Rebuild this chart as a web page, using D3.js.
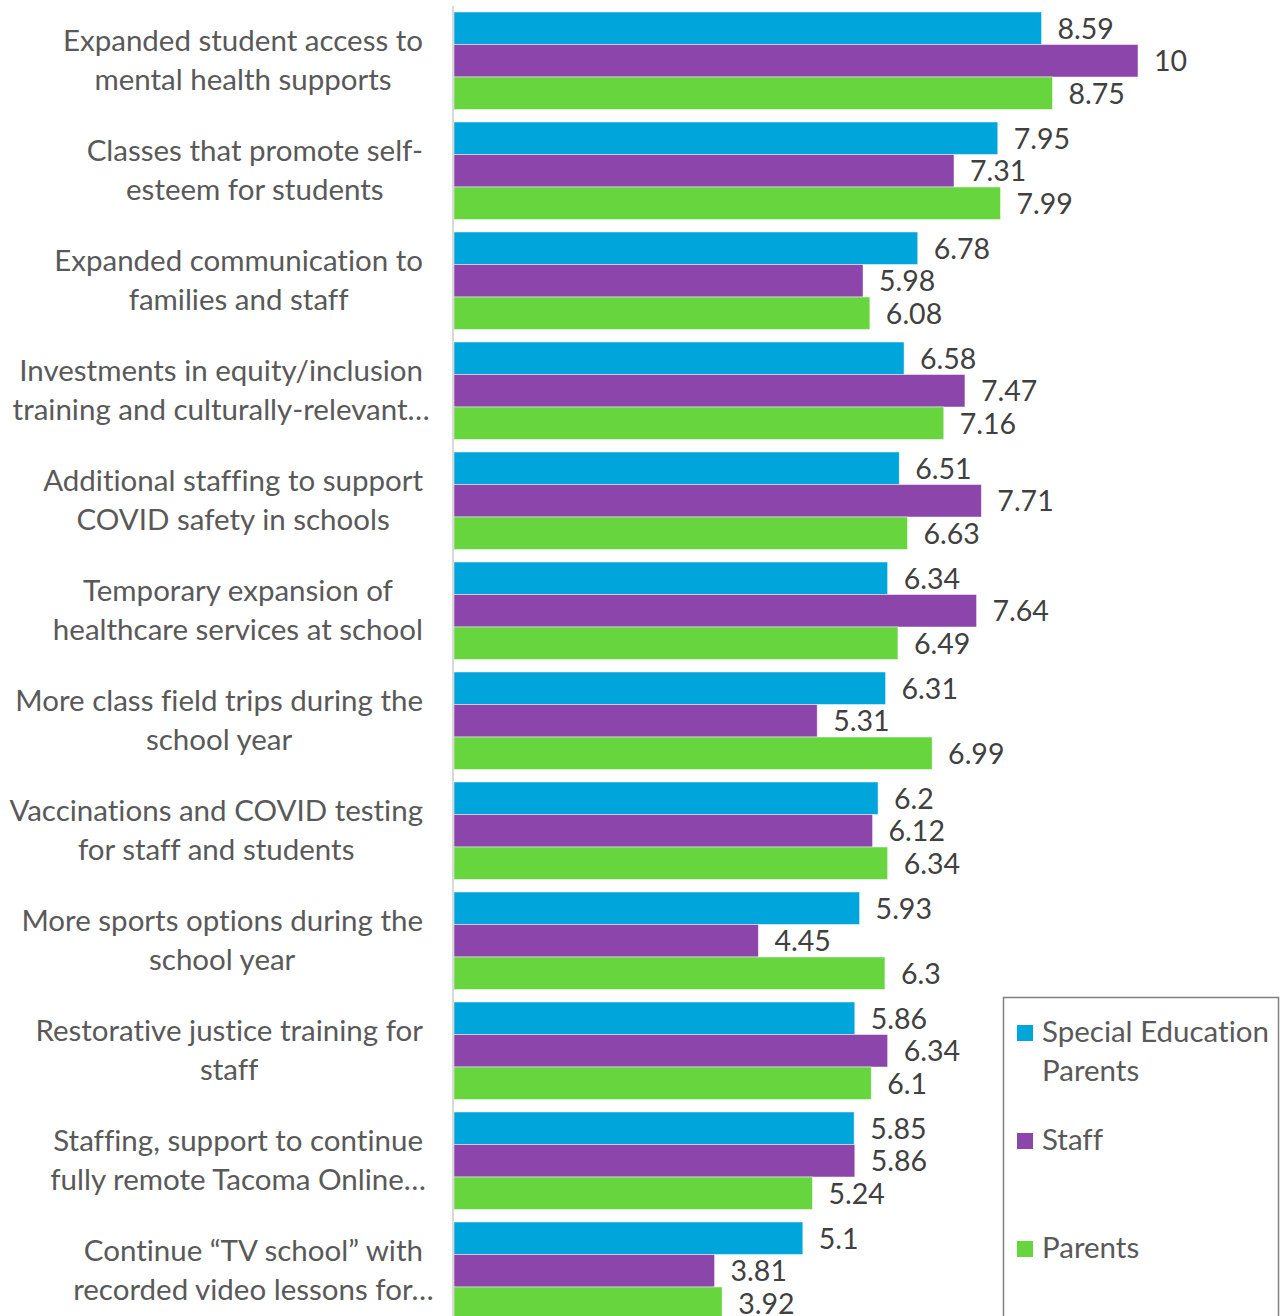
<!DOCTYPE html>
<html>
<head>
<meta charset="utf-8">
<script src="https://cdn.jsdelivr.net/npm/d3@7"></script>
<style>
  body { margin: 0; background: #fff; }
  svg { display: block; font-family: Lato, "Open Sans", sans-serif; font-variant-ligatures: none; }
</style>
</head>
<body>
<script>
//grouped horizontal bar chart, three respondent groups

//data
var categories = [
    ["Expanded student access to", "mental health supports"],
    ["Classes that promote self-", "esteem for students"],
    ["Expanded communication to", "families and staff"],
    ["Investments in equity/inclusion", "training and culturally-relevant\u2026"],
    ["Additional staffing to support", "COVID safety in schools"],
    ["Temporary expansion of", "healthcare services at school"],
    ["More class field trips during the", "school year"],
    ["Vaccinations and COVID testing", "for staff and students"],
    ["More sports options during the", "school year"],
    ["Restorative justice training for", "staff"],
    ["Staffing, support to continue", "fully remote Tacoma Online\u2026"],
    ["Continue \u201cTV school\u201d with", "recorded video lessons for\u2026"]
];
var seriesNames = ["Special Education Parents", "Staff", "Parents"];
var legendLines = [["Special Education", "Parents"], ["Staff"], ["Parents"]];
var spedParents = [8.59, 7.95, 6.78, 6.58, 6.51, 6.34, 6.31, 6.2, 5.93, 5.86, 5.85, 5.1];
var staff       = [10, 7.31, 5.98, 7.47, 7.71, 7.64, 5.31, 6.12, 4.45, 6.34, 5.86, 3.81];
var parents     = [8.75, 7.99, 6.08, 7.16, 6.63, 6.49, 6.99, 6.34, 6.3, 6.1, 5.24, 3.92];
var colors = ["#00A5DC", "#8B45AB", "#66D53E"];

(function(){

var width = 1285,
    height = 1316;

var svg = d3.select("body")
    .append("svg")
    .attr("width", width)
    .attr("height", height);

var keys = categories.map(function(c, i){ return "c" + i; });
var seriesData = [spedParents, staff, parents];

//scales
var x = d3.scaleLinear()
    .domain([0, 10])
    .range([454, 1138]);

var step = 110, pad = 12.5 / 110;
var y = d3.scaleBand()
    .domain(keys)
    .range([5.75, 5.75 + step * keys.length])
    .paddingInner(pad)
    .paddingOuter(pad / 2);

var ySub = d3.scaleBand()
    .domain(d3.range(seriesNames.length))
    .range([0, y.bandwidth()]);

//bars
var groups = svg.selectAll(".grp")
    .data(keys)
    .enter()
    .append("g")
    .attr("class", "grp")
    .attr("transform", function(d){ return "translate(0," + y(d) + ")"; });

groups.each(function(k, i){
    var g = d3.select(this);
    var rows = seriesData.map(function(s, j){ return {v: s[i], j: j}; });

    g.selectAll("rect")
        .data(rows)
        .enter()
        .append("rect")
        .attr("x", x(0))
        .attr("y", function(d){ return ySub(d.j); })
        .attr("width", function(d){ return x(d.v) - x(0); })
        .attr("height", ySub.bandwidth())
        .attr("fill", function(d){ return colors[d.j]; })
        .attr("stroke", "rgba(255,255,255,0.6)")
        .attr("stroke-width", 0.8);

    g.selectAll("text.val")
        .data(rows)
        .enter()
        .append("text")
        .attr("class", "val")
        .attr("x", function(d){ return x(d.v) + 16; })
        .attr("y", function(d){ return ySub(d.j) + ySub.bandwidth() / 2; })
        .attr("dy", "0.36em")
        .attr("fill", "#404040")
        .style("font-size", "28.5px")
        .text(function(d){ return d.v; });
});

//axis line
svg.append("line")
    .attr("x1", 453).attr("x2", 453)
    .attr("y1", 6).attr("y2", height)
    .attr("stroke", "#d9d9d9")
    .attr("stroke-width", 2);

//category labels, wrapped & centred, block right edge at 423
var labels = svg.selectAll(".cat")
    .data(categories)
    .enter()
    .append("text")
    .attr("class", "cat")
    .attr("fill", "#595959")
    .attr("text-anchor", "middle")
    .style("font-size", "29.5px");

labels.each(function(lines, i){
    var t = d3.select(this);
    var cy = y(keys[i]) + y.bandwidth() / 2;
    var spans = lines.map(function(line, li){
        return t.append("tspan")
            .attr("y", cy - 10 + li * 39)
            .text(line);
    });
    //widest non-truncated line sets the block
    var w = 0;
    spans.forEach(function(s, li){
        if (lines[li].indexOf("\u2026") < 0) w = Math.max(w, s.node().getComputedTextLength());
    });
    spans.forEach(function(s){ s.attr("x", 423 - w / 2); });
});

//legend
var legend = svg.append("g");
legend.append("rect")
    .attr("x", 1003.5).attr("y", 997.5)
    .attr("width", 275).attr("height", 340)
    .attr("fill", "none")
    .attr("stroke", "#808080")
    .attr("stroke-width", 1.5);

legendLines.forEach(function(lines, j){
    var by = 1042 + j * 108;
    legend.append("rect")
        .attr("x", 1017).attr("y", by - 17)
        .attr("width", 16).attr("height", 16)
        .attr("fill", colors[j]);
    var t = legend.append("text")
        .attr("fill", "#595959")
        .style("font-size", "29.5px");
    lines.forEach(function(line, li){
        t.append("tspan")
            .attr("x", 1042)
            .attr("y", by + li * 39)
            .text(line);
    });
});

})();
</script>
</body>
</html>
